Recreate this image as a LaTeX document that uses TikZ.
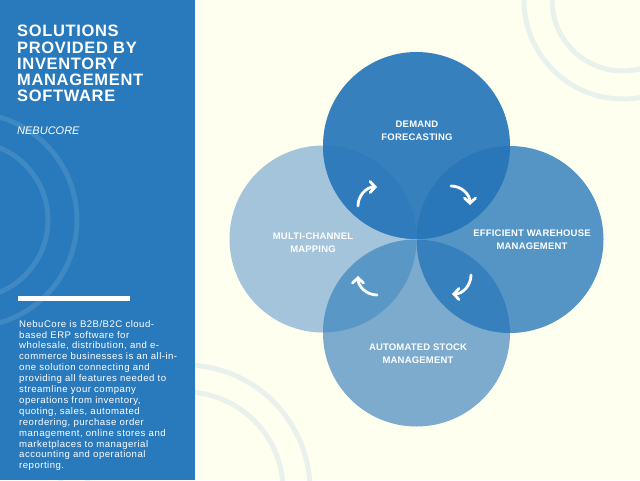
\documentclass[tikz,border=0pt]{standalone}
\usepackage{fontspec}
\setmainfont{Liberation Sans}
\newfontfamily\headfont{Liberation Sans}[LetterSpace=4]
\newfontfamily\labelfont{Liberation Sans}[LetterSpace=2]
\newfontfamily\bodyfont{Liberation Sans}[LetterSpace=5]
\usetikzlibrary{arrows.meta,positioning}
\definecolor{PanelBlue}{RGB}{41,121,189}
\definecolor{Ivory}{RGB}{255,255,240}
\definecolor{RingGray}{RGB}{233,241,237}
\definecolor{RingBlue}{RGB}{62,136,196}
\definecolor{TopBlue}{RGB}{55,128,190}
\definecolor{LeftBlue}{RGB}{163,196,218}
\definecolor{RightBlue}{RGB}{84,149,198}
\definecolor{BottomBlue}{RGB}{124,171,206}
\definecolor{LensTL}{RGB}{47,123,187}
\definecolor{LensTR}{RGB}{41,118,184}
\definecolor{LensBR}{RGB}{55,128,190}
\definecolor{LensBL}{RGB}{88,151,198}
% curved arrow: centre x, centre y, start angle, end angle
\newcommand{\cyclearrow}[4]{%
  \draw[turnarrow] ([shift={(#3:19)}]#1,#2) arc[start angle=#3,end angle=#4,radius=19];}
% overlap of two circles
\newcommand{\lens}[3]{%
  \begin{scope}
    \clip (#1) circle[radius=93.5];
    \fill[#3] (#2) circle[radius=93.5];
  \end{scope}}

\begin{document}
\begin{tikzpicture}[x=1pt,y=-1pt,
  circlelabel/.style={text=white,align=center,inner sep=0pt,
    font=\labelfont\bfseries\fontsize{9.5}{13.5}\selectfont},
  ring/.style={line width=5pt},
  turnarrow/.style={white,line width=2.8pt,line cap=round,
    -{Straight Barb[length=5pt,width=11pt,line cap=round]}}]
  \useasboundingbox (0,0) rectangle (640,480);
  \clip (0,0) rectangle (640,480);
  \fill[Ivory] (0,0) rectangle (640,480);
  \draw[ring,RingGray] (623,0) circle[radius=71] (623,0) circle[radius=99];
  \draw[ring,RingGray] (185,490) circle[radius=98] (185,490) circle[radius=125];

  % left panel
  \fill[PanelBlue] (0,0) rectangle (195,480);
  \begin{scope}
    \clip (0,0) rectangle (195,480);
    \draw[ring,RingBlue] (-30,220) circle[radius=78] (-30,220) circle[radius=107];
  \end{scope}
  \node[anchor=north west,inner sep=0pt,text=white,align=left,
    font=\headfont\bfseries\fontsize{16.5}{16.3}\selectfont] (title) at (17,25)
    {SOLUTIONS\\PROVIDED BY\\INVENTORY\\MANAGEMENT\\SOFTWARE};
  \node[anchor=north west,inner sep=0pt,text=white,
    font=\itshape\fontsize{11}{13}\selectfont] (brand) at (17,127) {NEBUCORE};
  \fill[white] (18,296) rectangle (130,301);
  \node[anchor=north west,inner sep=0pt,text=white,align=left,
    font=\bodyfont\fontsize{9.6}{10.9}\selectfont] (about) at (19,320)
    {NebuCore is B2B/B2C cloud-\\based ERP software for\\wholesale, distribution, and e-\\
     commerce businesses is an all-in-\\one solution connecting and\\
     providing all features needed to\\streamline your company\\
     operations from inventory,\\quoting, sales, automated\\
     reordering, purchase order\\management, online stores and\\
     marketplaces to managerial\\accounting and operational\\reporting.};

  % four circles
  \coordinate (top) at (416.5,145.5);
  \coordinate (left) at (323,239);
  \coordinate (right) at (510,239.5);
  \coordinate (bottom) at (416.5,333);
  \fill[LeftBlue] (left) circle[radius=93.5];
  \fill[RightBlue] (right) circle[radius=93.5];
  \fill[TopBlue] (top) circle[radius=93.5];
  \fill[BottomBlue] (bottom) circle[radius=93.5];
  \lens{top}{left}{LensTL}
  \lens{top}{right}{LensTR}
  \lens{bottom}{right}{LensBR}
  \lens{bottom}{left}{LensBL}

  \node[circlelabel] (demand) at (417,131) {DEMAND\\FORECASTING};
  \node[circlelabel] (channel) at (313,242.5) {MULTI-CHANNEL\\MAPPING};
  \node[circlelabel] (warehouse) at (532,239.5) {EFFICIENT WAREHOUSE\\MANAGEMENT};
  \node[circlelabel] (stock) at (418,353.5) {AUTOMATED STOCK\\MANAGEMENT};

  \cyclearrow{377}{206}{180}{270}
  \cyclearrow{451}{205}{270}{360}
  \cyclearrow{452}{275}{0}{90}
  \cyclearrow{377}{276}{90}{180}
\end{tikzpicture}
\end{document}
